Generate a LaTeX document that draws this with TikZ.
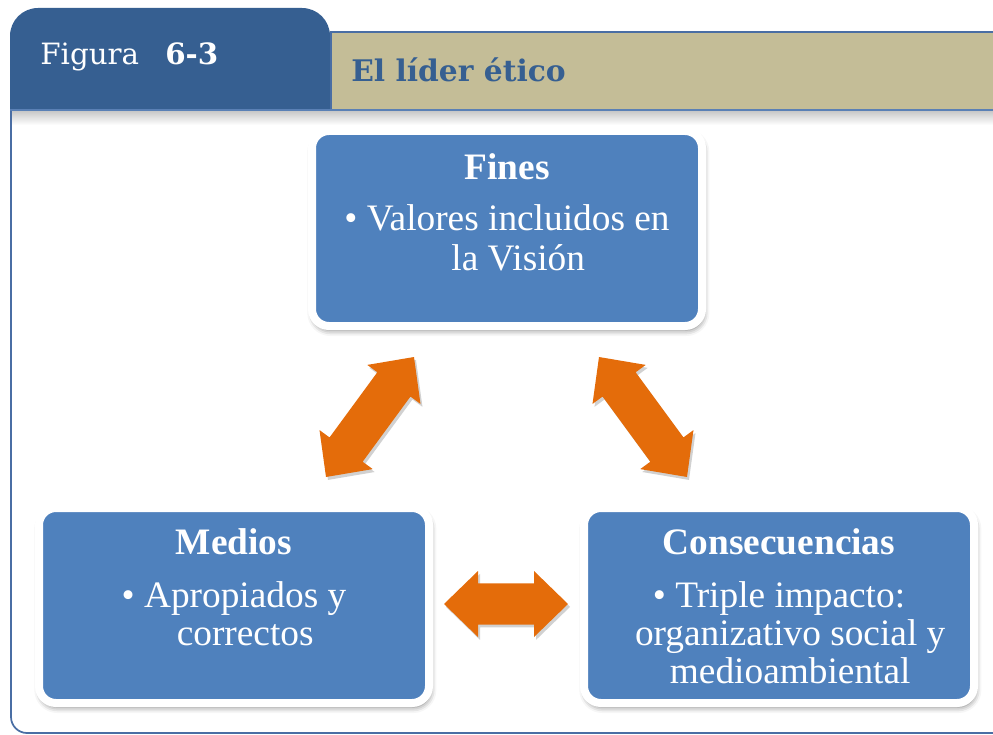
\documentclass[tikz,border=0pt]{standalone}
\usepackage{fontspec}
\setmainfont{Liberation Serif}
\newfontfamily\hdrfont{DejaVu Serif}
\usetikzlibrary{calc,shadows.blur}
\definecolor{tabblue}{HTML}{365F91}
\definecolor{tanc}{HTML}{C4BD97}
\definecolor{boxblue}{HTML}{4F81BD}
\definecolor{arrorange}{HTML}{E46C0A}
\definecolor{linec}{HTML}{4A6EA4}
\definecolor{linelt}{HTML}{5A80B5}
\newcommand\dblarrow[3]{%
  \begin{scope}[shift={(#1)},shift={(1.5pt,-2.2pt)},rotate=#2]
    \fill[black,opacity=0.18] (0pt,0pt) -- (25.5pt,24.75pt) -- (25.5pt,15.4pt) -- ({#3-25.5pt},15.4pt) -- ({#3-25.5pt},24.75pt) -- (#3,0pt) -- ({#3-25.5pt},-24.75pt) -- ({#3-25.5pt},-15.4pt) -- (25.5pt,-15.4pt) -- (25.5pt,-24.75pt) -- cycle;
  \end{scope}
  \begin{scope}[shift={(#1)},rotate=#2]
    \fill[arrorange] (0pt,0pt) -- (25.5pt,24.75pt) -- (25.5pt,15.4pt) -- ({#3-25.5pt},15.4pt) -- ({#3-25.5pt},24.75pt) -- (#3,0pt) -- ({#3-25.5pt},-24.75pt) -- ({#3-25.5pt},-15.4pt) -- (25.5pt,-15.4pt) -- (25.5pt,-24.75pt) -- cycle;
  \end{scope}}
\begin{document}
\begin{tikzpicture}[x=0.75pt,y=-0.75pt,
  box/.style={rectangle, fill=boxblue, draw=white, line width=6pt,
    rounded corners=12.75pt, minimum width=292.5pt, minimum height=146.25pt,
    inner sep=0pt,
    blur shadow={shadow xshift=1pt, shadow yshift=-3pt, shadow blur radius=4.5pt, shadow opacity=55}},
  ttl/.style={font=\fontsize{28}{34}\selectfont\bfseries, text=white, anchor=base, inner sep=0pt},
  bod/.style={font=\fontsize{28}{34}\selectfont, text=white, anchor=base, inner sep=0pt},
  hdr/.style={font=\hdrfont\fontsize{22}{26}\selectfont, anchor=base west, inner sep=0pt}]
\useasboundingbox (0,0) rectangle (993,735);
% header tab
\begin{scope}
  \clip (0,0) rectangle (993,110);
  \fill[tabblue, rounded corners=21pt] (10,8) rectangle (330,170);
\end{scope}
\fill[tanc] (330,31) rectangle (1000,110);
\draw[linec, line width=1.5pt] (331,110) -- (331,32) -- (1000,32);
\shade[top color=black!20, bottom color=white] (12,112) rectangle (993,125);
\draw[linelt, line width=1.5pt] (10,110.5) -- (1000,110.5);
% frame
\draw[linec, line width=1.3pt, rounded corners=12pt] (11,111) -- (11,733) -- (1010,733);
% header texts
\node[hdr, text=white] (fig) at (40,65) {Figura};
\node[hdr, text=white] (num) at (165,65) {\bfseries 6-3};
\node[hdr, text=tabblue, font=\hdrfont\fontsize{22.3}{26}\selectfont] (ttlh) at (351,82) {\bfseries El líder ético};
% boxes
\node[box] (fines) at (507,228.5) {};
\node[box] (medios) at (234,605.5) {};
\node[box] (cons) at (779,605.5) {};
% texts
\node[ttl] (fines-t) at (507,180) {Fines};
\node[bod] (fines-1) at (507,230) {\textbullet\ Valores incluidos en};
\node[bod] (fines-2) at (507,270) {\hphantom{\textbullet\ }la Visión};
\node[ttl] (medios-t) at (234,554) {Medios};
\node[bod] (medios-1) at (234,607) {\textbullet\ Apropiados y};
\node[bod] (medios-2) at (234,645) {\hphantom{\textbullet\ }correctos};
\node[ttl] (cons-t) at (779,554) {Consecuencias};
\node[bod] (cons-1) at (779,607) {\textbullet\ Triple impacto:};
\node[bod] (cons-2) at (779,645) {\hphantom{\textbullet\ }organizativo social y};
\node[bod] (cons-3) at (779,683) {\hphantom{\textbullet\ }medioambiental};
% arrows
\coordinate (a1) at (326,477);
\coordinate (a2) at (599,357);
\coordinate (a3) at (444,604);
\dblarrow{a1}{53.75}{111.6pt}
\dblarrow{a2}{-53.75}{111.6pt}
\dblarrow{a3}{0}{93pt}
\end{tikzpicture}
\end{document}
